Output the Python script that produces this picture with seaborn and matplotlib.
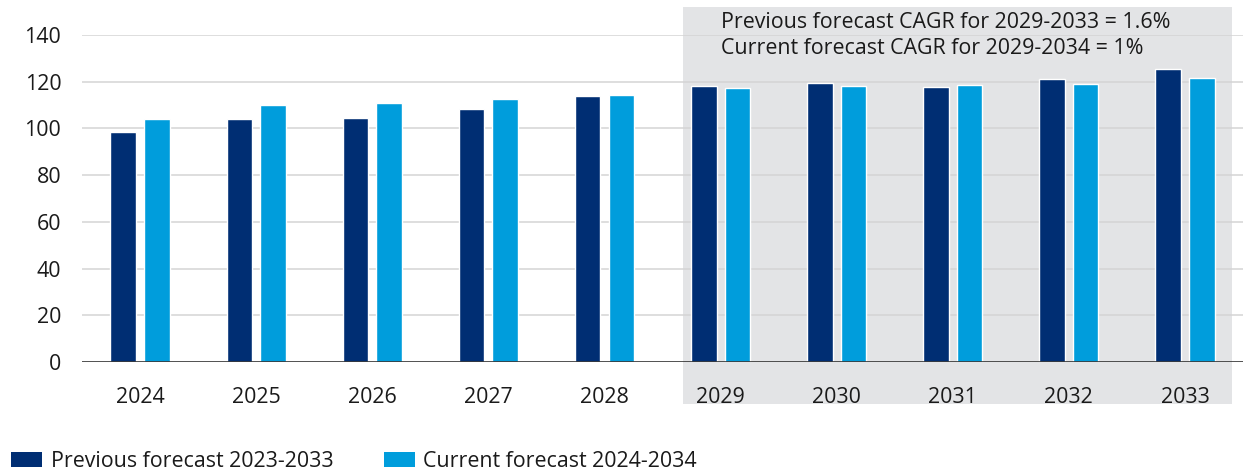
import matplotlib
matplotlib.use("Agg")
import matplotlib.pyplot as plt
import matplotlib.transforms as mtransforms
from matplotlib.patches import Patch, Rectangle
import pandas as pd
import seaborn as sns

years = ["2024", "2025", "2026", "2027", "2028", "2029", "2030", "2031", "2032", "2033"]
previous = [98.3, 104.0, 104.3, 108.2, 114.0, 118.1, 119.4, 117.8, 121.1, 125.5]
current = [104.0, 109.9, 110.9, 112.7, 114.3, 117.1, 118.1, 118.4, 119.1, 121.4]
series_names = ["Previous forecast 2023-2033", "Current forecast 2024-2034"]
series_colors = ["#002E73", "#009DDC"]
y_ticks = [0, 20, 40, 60, 80, 100, 120, 140]
cagr_lines = ["Previous forecast CAGR for 2029-2033 = 1.6%",
              "Current forecast CAGR for 2029-2034 = 1%"]

df = pd.DataFrame({
    "year": years * 2,
    "value": previous + current,
    "series": [series_names[0]] * len(years) + [series_names[1]] * len(years),
})

sns.set_theme(style="white")
plt.rcParams["font.family"] = ["Open Sans", "DejaVu Sans"]

FS = 15.4
TEXT_COLOR = "#1a1a1a"

fig = plt.figure(figsize=(12.43, 4.71), dpi=100)
ax = fig.add_axes([0.066, 0.2314, 0.934, 0.6943])

sns.barplot(data=df, x="year", y="value", hue="series", order=years,
            hue_order=series_names, palette=series_colors, width=0.58,
            gap=0.24, saturation=1, ax=ax, legend=False, zorder=3)

ax.set_xlim(-0.5, len(years) - 0.5)
ax.set_ylim(0, 140)
ax.set_yticks(y_ticks)
ax.set_xlabel("")
ax.set_ylabel("")

# horizontal gridlines
for t in y_ticks[1:]:
    ax.axhline(t, color="#d4d4d4", lw=1.1, zorder=1)
ax.axhline(0, color="#333333", lw=1.2, zorder=4)

for s in ax.spines.values():
    s.set_visible(False)

ax.tick_params(axis="both", length=0, labelsize=FS, colors=TEXT_COLOR)
ax.tick_params(axis="y", pad=15)
ax.tick_params(axis="x", pad=18)

# shaded forecast window spanning 2029-2033, extending past the axes
trans = mtransforms.blended_transform_factory(ax.transData, fig.transFigure)
ax.add_patch(Rectangle((4.675, 0.142), 9.405 - 4.675, 0.985 - 0.142,
                       transform=trans, facecolor="#e3e4e6", edgecolor="none",
                       clip_on=False, zorder=0.5))

ax.text(5.0, 0.953, cagr_lines[0], transform=trans, fontsize=FS,
        color=TEXT_COLOR, va="center", ha="left", zorder=5)
ax.text(5.0, 0.898, cagr_lines[1], transform=trans, fontsize=FS,
        color=TEXT_COLOR, va="center", ha="left", zorder=5)

handles = [Patch(facecolor=c, edgecolor="none", label=n)
           for c, n in zip(series_colors, series_names)]
fig.legend(handles=handles, loc="center left", bbox_to_anchor=(0.0088, 0.02),
           ncol=2, frameon=False, fontsize=FS, handlelength=1.46,
           handleheight=0.75, handletextpad=0.4, columnspacing=2.35,
           borderpad=0, borderaxespad=0, labelcolor=TEXT_COLOR)

fig.savefig("out.png", dpi=100)
